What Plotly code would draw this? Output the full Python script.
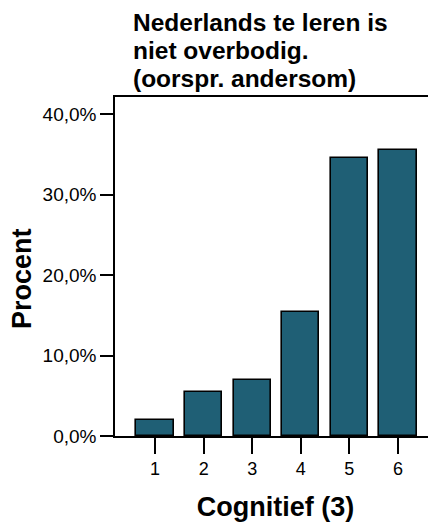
import plotly.graph_objects as go

categories = ["1", "2", "3", "4", "5", "6"]
values = [2.0, 5.5, 7.0, 15.4, 34.6, 35.6]
y_ticks = [0, 10, 20, 30, 40]
y_tick_labels = ["0,0%", "10,0%", "20,0%", "30,0%", "40,0%"]
title_lines = ["Nederlands te leren is", "niet overbodig.", "(oorspr. andersom)"]
y_title = "Procent"
x_title = "Cognitief (3)"

fig = go.Figure()
fig.add_trace(go.Bar(
    x=[int(c) for c in categories],
    y=values,
    width=0.77,
    marker=dict(color="#1f5f75", line=dict(color="black", width=1.6)),
))

font = "Liberation Sans, Arial, sans-serif"
# page has an 8px body margin; compensate so the figure fills the window
fig.update_layout(
    width=428, height=518,
    margin=dict(l=107, r=0, t=89, b=90),
    plot_bgcolor="white", paper_bgcolor="white",
    showlegend=False,
    font=dict(family=font, color="black"),
    bargap=0,
)
fig.update_xaxes(
    automargin=False,
    range=[0.174, 6.785],
    tickmode="array", tickvals=[1, 2, 3, 4, 5, 6], ticktext=categories,
    ticks="outside", ticklen=16, tickwidth=1.5, tickcolor="black",
    tickfont=dict(size=18, family=font),
    showline=True, linecolor="black", linewidth=1.5, mirror=True,
    showgrid=False, zeroline=False,
    title=dict(text="<b>" + x_title + "</b>", font=dict(size=27, family=font), standoff=19),
)
fig.update_yaxes(
    automargin=False,
    range=[0, 42.16],
    tickmode="array", tickvals=y_ticks, ticktext=y_tick_labels,
    ticks="outside", ticklen=13, tickwidth=1.5, tickcolor="black",
    tickfont=dict(size=19, family=font),
    showline=True, linecolor="black", linewidth=1.5,
    showgrid=False, zeroline=False,
)
fig.add_annotation(
    text="<b>" + y_title + "</b>",
    xref="paper", yref="paper", x=(22 - 115) / 321, y=(436 - 279) / 339,
    xanchor="center", yanchor="middle", textangle=-90, showarrow=False,
    font=dict(size=27, family=font, color="black"),
)
for line, yc in zip(title_lines, [22, 50.5, 79]):
    fig.add_annotation(
        text="<b>" + line + "</b>",
        xref="paper", yref="paper", x=(131 - 115) / 321, y=(436 - yc) / 339,
        xanchor="left", yanchor="middle", align="left", showarrow=False,
        font=dict(size=24.5, family=font, color="black"),
    )
fig.write_html("out.html")
